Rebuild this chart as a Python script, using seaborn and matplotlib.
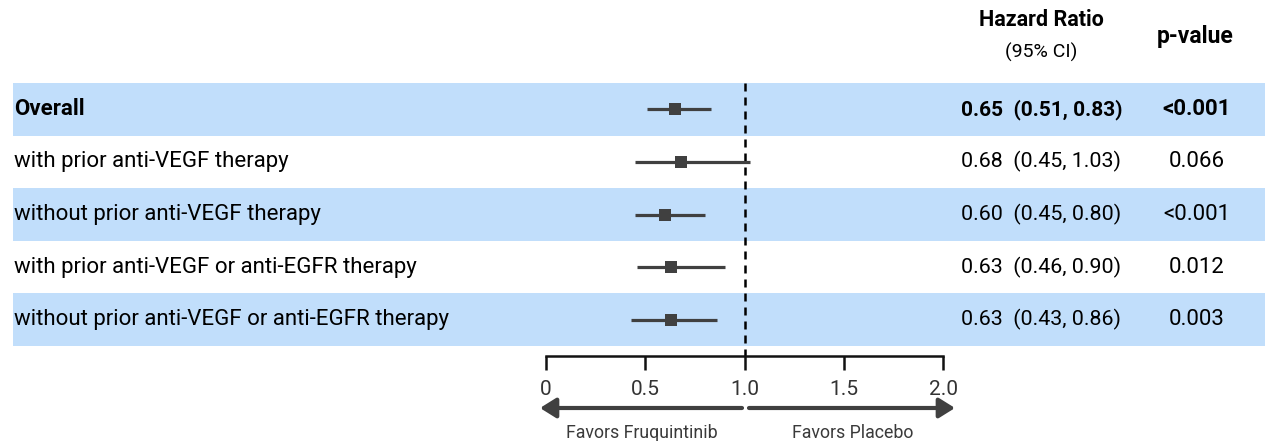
import numpy as np
import pandas as pd
import matplotlib.pyplot as plt
import seaborn as sns

# data
subgroups = ["Overall",
             "with prior anti-VEGF therapy",
             "without prior anti-VEGF therapy",
             "with prior anti-VEGF or anti-EGFR therapy",
             "without prior anti-VEGF or anti-EGFR therapy"]
hr = [0.65, 0.68, 0.60, 0.63, 0.63]
ci_low = [0.51, 0.45, 0.45, 0.46, 0.43]
ci_high = [0.83, 1.03, 0.80, 0.90, 0.86]
p_values = ["<0.001", "0.066", "<0.001", "0.012", "0.003"]
x_ticks = [0, 0.5, 1.0, 1.5, 2.0]
x_ticklabels = ["0", "0.5", "1.0", "1.5", "2.0"]

df = pd.DataFrame({"label": subgroups, "hr": hr, "lo": ci_low, "hi": ci_high,
                   "p": p_values, "row": np.arange(len(subgroups))})

sns.set_theme(style="white")
plt.rcParams["font.family"] = ["Roboto", "DejaVu Sans"]
plt.rcParams["text.color"] = "black"

band = "#c1defb"
dark = "#404040"
W, H = 1268, 441

fig = plt.figure(figsize=(W / 100, H / 100), dpi=100)
ax = fig.add_axes([0, 0, 1, 1])

# pixel layout: value 0 -> 546px, 2.0 -> 943px ; rows 52.6px tall from 83px
x0, xs = 546, (943 - 546) / 2
row_h, row_top = 52.6, 83


def xpx(p):
    return (p - x0) / xs


def ypx(p):
    return (p - row_top) / row_h - 0.5


# alternating row bands
for i in df["row"][::2]:
    ax.axhspan(i - 0.5, i + 0.5, xmin=13 / W, xmax=1265 / W, color=band, lw=0, zorder=0)

# reference line at HR = 1
ax.vlines(1, -0.5, ypx(356), colors="black", lw=1.8, linestyles=(0, (3.2, 2.4)), zorder=2)

# CI lines + point estimates
ax.hlines(df["row"], df["lo"], df["hi"], colors=dark, lw=2.3, zorder=3)
sns.scatterplot(data=df, x="hr", y="row", marker="s", s=85, color=dark,
                edgecolor=dark, linewidth=0, legend=False, ax=ax, zorder=4)

ax.set_xlim(-x0 / xs, (W - x0) / xs)
ax.set_ylim(ypx(H), ypx(0))
ax.set_axis_off()

# row text
fs = 16
for _, r in df.iterrows():
    w = "bold" if r["row"] == 0 else "normal"
    ax.text(xpx(14), r["row"], r["label"], ha="left", va="center", fontsize=fs, weight=w)
    ax.text(xpx(961), r["row"], f"{r['hr']:.2f}  ({r['lo']:.2f}, {r['hi']:.2f})",
            ha="left", va="center", fontsize=15.4 if w == "normal" else 15, weight=w)
    ax.text(xpx(1197), r["row"], r["p"], ha="center", va="center", fontsize=fs, weight=w)

# headers
ax.text(xpx(1041), ypx(20), "Hazard Ratio", ha="center", va="center", fontsize=15.5, weight="bold")
ax.text(xpx(1041), ypx(52), "(95% CI)", ha="center", va="center", fontsize=14)
ax.text(xpx(1195), ypx(37), "p-value", ha="center", va="center", fontsize=16.5, weight="bold")

# scale axis
sax = fig.add_axes([x0 / W, 1 - 356 / H, (943 - x0) / W, 0.01])
sax.set_xlim(0, 2)
sax.set_xticks(x_ticks, x_ticklabels)
sax.set_yticks([])
for s in ["top", "left", "right"]:
    sax.spines[s].set_visible(False)
sax.spines["bottom"].set_linewidth(1.8)
sax.spines["bottom"].set_color("#111111")
sax.tick_params(axis="x", direction="out", length=10, width=1.8, pad=7,
                labelsize=15, colors="#111111", labelcolor="#333333", bottom=True)
sax.patch.set_alpha(0)

# favors arrows
arrow = dict(arrowstyle="-|>,head_length=0.8,head_width=0.5", lw=3, color=dark,
             shrinkA=0, shrinkB=0, mutation_scale=12)
ax.annotate("", xy=(xpx(540), ypx(408)), xytext=(xpx(742), ypx(408)), arrowprops=arrow)
ax.annotate("", xy=(xpx(955), ypx(408)), xytext=(xpx(749), ypx(408)), arrowprops=arrow)
ax.text(xpx(642), ypx(433), "Favors Fruquintinib", ha="center", va="center", fontsize=12.8, color="#3a3a3a")
ax.text(xpx(853), ypx(433), "Favors Placebo", ha="center", va="center", fontsize=12.8, color="#3a3a3a")

fig.savefig("out.png", dpi=100)
